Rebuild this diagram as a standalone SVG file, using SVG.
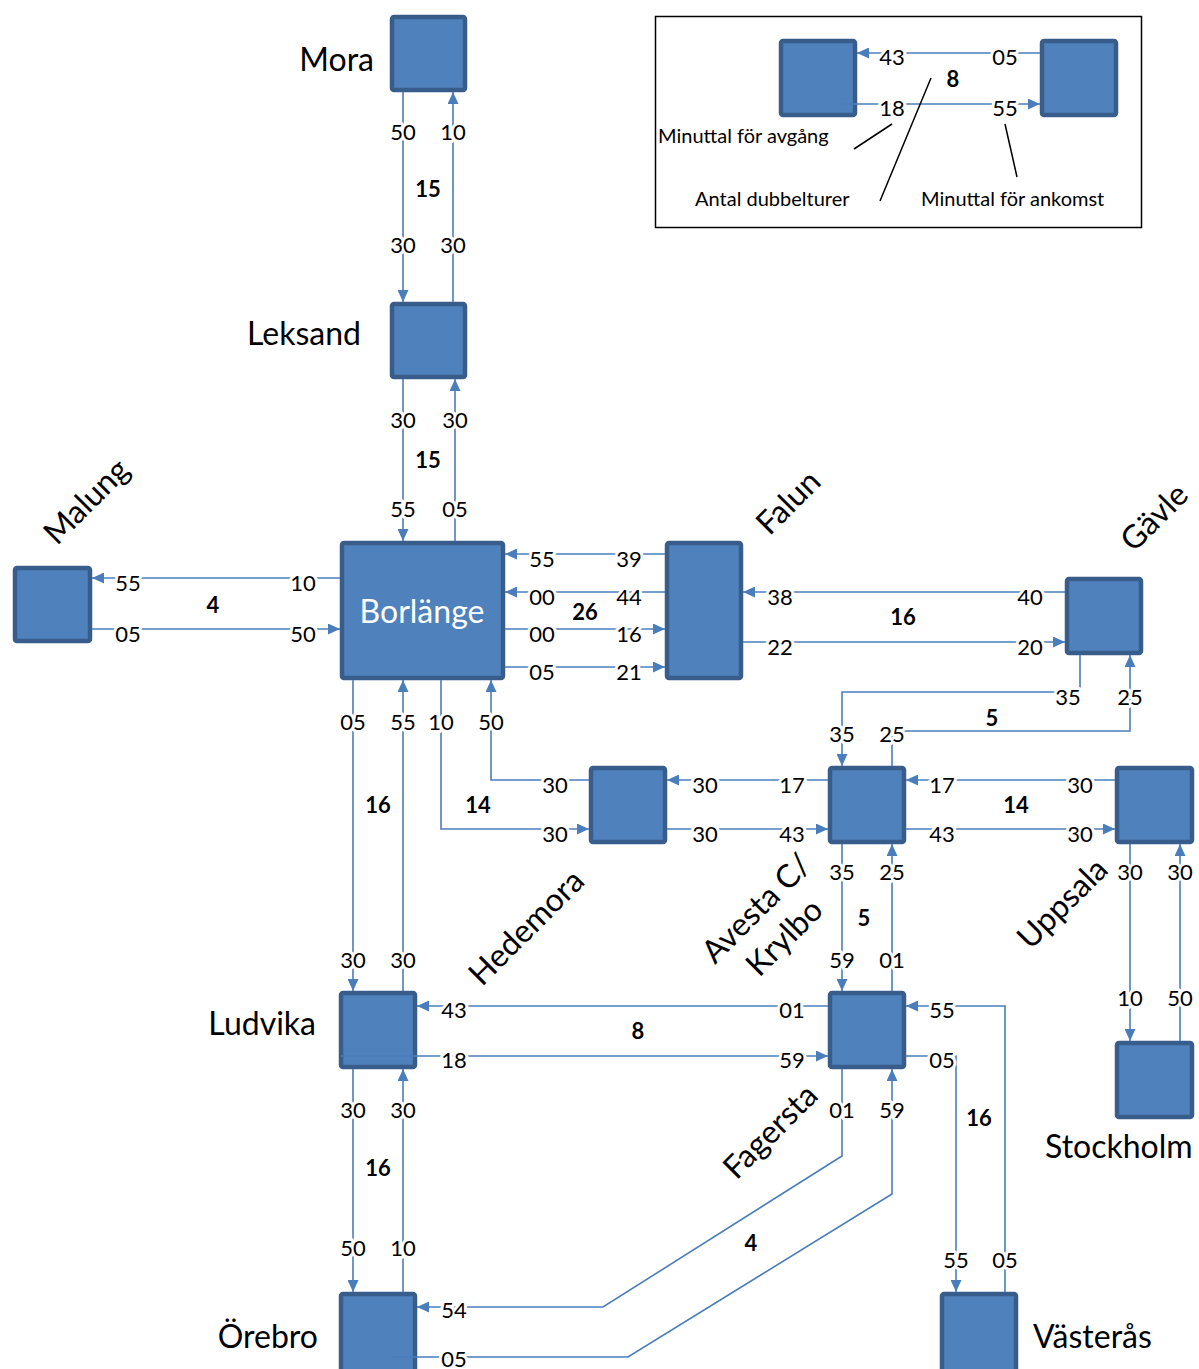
<svg xmlns="http://www.w3.org/2000/svg" width="1199" height="1369" viewBox="0 0 1199 1369">
  <defs>
    <marker id="arr" markerUnits="userSpaceOnUse" markerWidth="12" markerHeight="11" refX="12" refY="5.5" orient="auto">
      <path d="M0,0 L12,5.5 L0,11 Z" fill="#4A7EBB"/>
    </marker>
    <style>
      .node { fill: #4F81BD; stroke: #385D8A; stroke-width: 4.5; }
      .conn { fill: none; stroke: #4A7EBB; stroke-width: 1.6; }
      .arr { marker-end: url(#arr); }
      .t { font-family: Lato, "Liberation Sans", sans-serif; font-size: 22px; fill: #000; text-anchor: middle; stroke: #fff; stroke-width: 6px; paint-order: stroke; stroke-linejoin: round; }
      .b { font-family: Lato, "Liberation Sans", sans-serif; font-size: 22px; font-weight: bold; fill: #000; text-anchor: middle; }
      .name { font-family: Lato, "Liberation Sans", sans-serif; font-size: 32px; fill: #000; }
      .leg { font-family: Lato, "Liberation Sans", sans-serif; font-size: 20px; fill: #000; }
      .lead { stroke: #000; stroke-width: 1.5; fill: none; }
    </style>
  </defs>
  <rect width="1199" height="1369" fill="#fff"/>

  <!-- legend frame -->
  <g id="legend">
    <rect x="655.5" y="16.5" width="486" height="211" fill="none" stroke="#000" stroke-width="1.5"/>
    <rect class="node" x="781" y="41" width="74" height="74" rx="2"/>
    <rect class="node" x="1042" y="41" width="74" height="74" rx="2"/>
    <path class="conn arr" d="M1040,53 H857"/>
    <path class="conn arr" d="M842,104 H1040"/>
    <text class="t" x="892" y="65">43</text>
    <text class="t" x="1005" y="65">05</text>
    <text class="t" x="892" y="116">18</text>
    <text class="t" x="1005" y="116">55</text>
    <text class="b" x="953" y="87">8</text>
    <path class="lead" d="M892,124 L854,149"/>
    <path class="lead" d="M931,78 L880,201"/>
    <path class="lead" d="M1005,124 L1017,177"/>
    <text class="leg" x="658" y="143">Minuttal för avgång</text>
    <text class="leg" x="695" y="206">Antal dubbelturer</text>
    <text class="leg" x="921" y="206">Minuttal för ankomst</text>
  </g>

  <!-- stations -->
  <g id="mora"><rect class="node" x="392" y="17" width="73" height="73" rx="2"/><text class="name" x="374" y="71" text-anchor="end">Mora</text></g>
  <g id="leksand"><rect class="node" x="392" y="304" width="73" height="73" rx="2"/><text class="name" x="361" y="345" text-anchor="end">Leksand</text></g>
  <g id="borlange"><rect class="node" x="342" y="543" width="161" height="135" rx="2"/><text class="name" x="422" y="623" text-anchor="middle" style="fill:#fff">Borlänge</text></g>
  <g id="malung"><rect class="node" x="15" y="568" width="75" height="73" rx="2"/><text class="name" text-anchor="middle" transform="translate(87,502) rotate(-45)" y="10">Malung</text></g>
  <g id="falun"><rect class="node" x="667" y="543" width="74" height="135" rx="2"/><text class="name" text-anchor="middle" transform="translate(789,503) rotate(-45)" y="10">Falun</text></g>
  <g id="gavle"><rect class="node" x="1067" y="579" width="74" height="74" rx="2"/><text class="name" text-anchor="middle" transform="translate(1155,518) rotate(-45)" y="10">Gävle</text></g>
  <g id="hedemora"><rect class="node" x="591" y="768" width="74" height="74" rx="2"/><text class="name" text-anchor="middle" transform="translate(527,928) rotate(-45)" y="10">Hedemora</text></g>
  <g id="avesta"><rect class="node" x="830" y="768" width="74" height="74" rx="2"/>
    <text class="name" text-anchor="middle" transform="translate(757,909) rotate(-45)" y="10">Avesta C/</text>
    <text class="name" text-anchor="middle" transform="translate(785,938) rotate(-45)" y="10">Krylbo</text></g>
  <g id="uppsala"><rect class="node" x="1117" y="768" width="75" height="74" rx="2"/><text class="name" text-anchor="middle" transform="translate(1063,904) rotate(-45)" y="10">Uppsala</text></g>
  <g id="stockholm"><rect class="node" x="1117" y="1043" width="75" height="74" rx="2"/><text class="name" x="1045" y="1158">Stockholm</text></g>
  <g id="ludvika"><rect class="node" x="341" y="993" width="74" height="74" rx="2"/><text class="name" x="316" y="1035" text-anchor="end">Ludvika</text></g>
  <g id="fagersta"><rect class="node" x="830" y="993" width="74" height="74" rx="2"/><text class="name" text-anchor="middle" transform="translate(771,1132) rotate(-45)" y="10">Fagersta</text></g>
  <g id="orebro"><rect class="node" x="341" y="1294" width="74" height="80" rx="2"/><text class="name" x="318" y="1348" text-anchor="end">Örebro</text></g>
  <g id="vasteras"><rect class="node" x="942" y="1294" width="74" height="80" rx="2"/><text class="name" x="1033" y="1348">Västerås</text></g>

  <!-- connectors -->
  <g id="connectors">
    <!-- Mora - Leksand -->
    <path class="conn arr" d="M403,92 V302"/>
    <path class="conn arr" d="M453,302 V92"/>
    <!-- Leksand - Borlänge -->
    <path class="conn arr" d="M403,379 V541"/>
    <path class="conn arr" d="M455,541 V379"/>
    <!-- Malung - Borlänge -->
    <path class="conn arr" d="M340,578 H92"/>
    <path class="conn arr" d="M92,629 H340"/>
    <!-- Borlänge - Falun -->
    <path class="conn arr" d="M665,554 H505"/>
    <path class="conn arr" d="M665,592 H505"/>
    <path class="conn arr" d="M505,629 H665"/>
    <path class="conn arr" d="M505,667 H665"/>
    <!-- Falun - Gävle -->
    <path class="conn arr" d="M1065,592 H743"/>
    <path class="conn arr" d="M743,642 H1065"/>
    <!-- Gävle - Avesta -->
    <path class="conn arr" d="M1080,655 V692 H842 V766"/>
    <path class="conn arr" d="M892,766 V731 H1130 V655"/>
    <!-- Borlänge - Hedemora -->
    <path class="conn arr" d="M589,780 H491 V680"/>
    <path class="conn arr" d="M441,680 V829 H589"/>
    <!-- Hedemora - Avesta -->
    <path class="conn arr" d="M828,780 H667"/>
    <path class="conn arr" d="M667,829 H828"/>
    <!-- Avesta - Uppsala -->
    <path class="conn arr" d="M1115,780 H906"/>
    <path class="conn arr" d="M906,829 H1115"/>
    <!-- Uppsala - Stockholm -->
    <path class="conn arr" d="M1130,844 V1041"/>
    <path class="conn arr" d="M1180,1041 V844"/>
    <!-- Avesta - Fagersta -->
    <path class="conn arr" d="M842,844 V991"/>
    <path class="conn arr" d="M892,991 V844"/>
    <!-- Borlänge - Ludvika -->
    <path class="conn arr" d="M353,680 V991"/>
    <path class="conn arr" d="M403,991 V680"/>
    <!-- Ludvika - Fagersta -->
    <path class="conn arr" d="M828,1006 H417"/>
    <path class="conn arr" d="M341,1056 H828"/>
    <!-- Fagersta - Västerås -->
    <path class="conn arr" d="M1005,1292 V1006 H906"/>
    <path class="conn arr" d="M906,1056 H956 V1292"/>
    <!-- Ludvika - Örebro -->
    <path class="conn arr" d="M353,1069 V1292"/>
    <path class="conn arr" d="M403,1292 V1069"/>
    <!-- Fagersta - Örebro -->
    <path class="conn arr" d="M842,1069 V1156 L603,1307 H417"/>
    <path class="conn arr" d="M392,1357 H628 L892,1194 V1069"/>

    <!-- minute labels -->
    <text class="t" x="403" y="140">50</text><text class="t" x="453" y="140">10</text>
    <text class="t" x="403" y="253">30</text><text class="t" x="453" y="253">30</text>
    <text class="t" x="403" y="428">30</text><text class="t" x="455" y="428">30</text>
    <text class="t" x="403" y="517">55</text><text class="t" x="455" y="517">05</text>

    <text class="t" x="128" y="591">55</text><text class="t" x="303" y="591">10</text>
    <text class="t" x="128" y="642">05</text><text class="t" x="303" y="642">50</text>

    <text class="t" x="542" y="567">55</text><text class="t" x="629" y="567">39</text>
    <text class="t" x="542" y="605">00</text><text class="t" x="629" y="605">44</text>
    <text class="t" x="542" y="642">00</text><text class="t" x="629" y="642">16</text>
    <text class="t" x="542" y="680">05</text><text class="t" x="629" y="680">21</text>

    <text class="t" x="780" y="605">38</text><text class="t" x="1030" y="605">40</text>
    <text class="t" x="780" y="655">22</text><text class="t" x="1030" y="655">20</text>

    <text class="t" x="1068" y="705">35</text><text class="t" x="1130" y="705">25</text>
    <text class="t" x="842" y="742">35</text><text class="t" x="892" y="742">25</text>

    <text class="t" x="353" y="730">05</text><text class="t" x="403" y="730">55</text>
    <text class="t" x="441" y="730">10</text><text class="t" x="491" y="730">50</text>

    <text class="t" x="555" y="793">30</text><text class="t" x="555" y="842">30</text>
    <text class="t" x="705" y="793">30</text><text class="t" x="792" y="793">17</text>
    <text class="t" x="705" y="842">30</text><text class="t" x="792" y="842">43</text>
    <text class="t" x="942" y="793">17</text><text class="t" x="1080" y="793">30</text>
    <text class="t" x="942" y="842">43</text><text class="t" x="1080" y="842">30</text>

    <text class="t" x="842" y="880">35</text><text class="t" x="892" y="880">25</text>
    <text class="t" x="842" y="968">59</text><text class="t" x="892" y="968">01</text>
    <text class="t" x="1130" y="880">30</text><text class="t" x="1180" y="880">30</text>
    <text class="t" x="1130" y="1006">10</text><text class="t" x="1180" y="1006">50</text>

    <text class="t" x="353" y="968">30</text><text class="t" x="403" y="968">30</text>
    <text class="t" x="454" y="1018">43</text><text class="t" x="792" y="1018">01</text>
    <text class="t" x="454" y="1068">18</text><text class="t" x="792" y="1068">59</text>
    <text class="t" x="942" y="1018">55</text><text class="t" x="942" y="1068">05</text>

    <text class="t" x="353" y="1118">30</text><text class="t" x="403" y="1118">30</text>
    <text class="t" x="842" y="1118">01</text><text class="t" x="892" y="1118">59</text>
    <text class="t" x="353" y="1256">50</text><text class="t" x="403" y="1256">10</text>
    <text class="t" x="956" y="1268">55</text><text class="t" x="1005" y="1268">05</text>
    <text class="t" x="454" y="1318">54</text><text class="t" x="454" y="1367">05</text>

    <!-- double-trip counts -->
    <text class="b" x="428" y="197">15</text>
    <text class="b" x="428" y="468">15</text>
    <text class="b" x="213" y="613">4</text>
    <text class="b" x="585" y="620">26</text>
    <text class="b" x="903" y="625">16</text>
    <text class="b" x="992" y="726">5</text>
    <text class="b" x="478" y="813">14</text>
    <text class="b" x="378" y="813">16</text>
    <text class="b" x="1016" y="813">14</text>
    <text class="b" x="864" y="926">5</text>
    <text class="b" x="638" y="1039">8</text>
    <text class="b" x="979" y="1126">16</text>
    <text class="b" x="378" y="1176">16</text>
    <text class="b" x="751" y="1251">4</text>
  </g>
</svg>
